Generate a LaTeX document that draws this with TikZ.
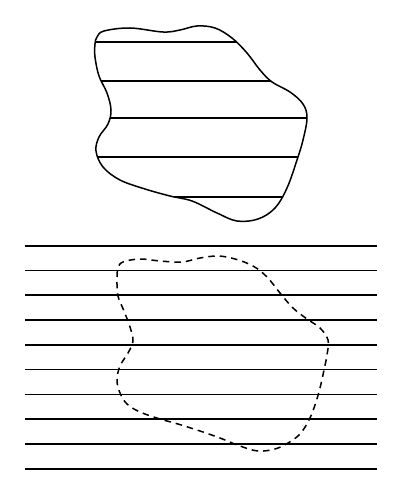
\documentclass[tikz,border=0pt]{standalone}
\begin{document}
\begin{tikzpicture}[x=1pt,y=-1pt,
  outline/.style={line width=1.5pt,black},
  stripe/.style={line width=1.6pt,black},
  ghost/.style={line width=1.5pt,black,dash pattern=on 6.5pt off 5pt}]
\useasboundingbox (0,0) rectangle (402,500);
% top blob
\def\blob{plot[smooth cycle,tension=0.6] coordinates {(97,37) (104,31) (130,28) (163,32) (180,30) (197,26) (215,28) (232,38) (247,53) (260,70) (272,82) (290,92) (303,104) (307,118) (303,140) (297,160) (287,188) (275,208) (258,219) (237,221) (217,213) (192,201) (170,196) (145,189) (120,180) (103,167) (96,151) (99,137) (108,124) (111,110) (107,93) (99,76) (95,57) (95,44)}}
\begin{scope}
\clip \blob;
\foreach \y in {42,81,118,157,197} \draw[stripe] (80,\y) -- (320,\y);
\end{scope}
\draw[outline] \blob;
% bottom stripes
\foreach \i in {0,...,9} \draw[stripe] (25,245.7+24.78*\i) -- (376.7,245.7+24.78*\i);
% dashed outline
\draw[ghost] plot[smooth cycle,tension=0.6] coordinates {(123,262) (140,259) (160,261) (182,262) (200,258) (218,256) (235,259) (253,266) (267,277) (280,293) (293,308) (307,319) (320,328) (328,340) (327,355) (324,370) (320,388) (315,405) (309,420) (300,434) (288,443) (275,449) (258,451) (240,446) (220,438) (200,431) (178,424) (160,419) (140,412) (127,404) (120,393) (117,380) (120,366) (128,353) (133,341) (130,327) (124,311) (118,296) (117,280) (118,268)};
\end{tikzpicture}
\end{document}
